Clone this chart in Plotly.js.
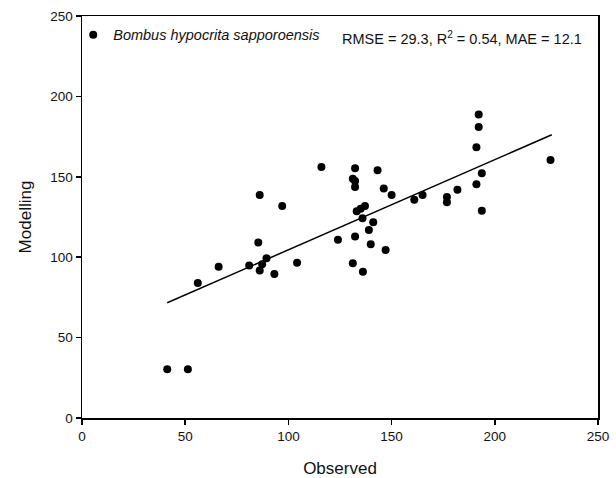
<!DOCTYPE html>
<html>
<head>
<meta charset="utf-8">
<script src="https://cdn.plot.ly/plotly-3.0.1.min.js"></script>
<style>html,body{margin:0;padding:0;background:#fff;}#chart{width:616px;height:478px;}</style>
</head>
<body>
<div id="chart"></div>
<script>
var observed = [41.3, 51.3, 56.1, 66.2, 81.0, 85.4, 86.1, 86.1, 87.3, 89.4, 93.2, 97.0, 104.2, 116.0, 124.0,
  131.2, 131.2, 132.3, 132.3, 132.3, 132.3, 133.1, 135.0, 136.1, 135.9, 137.1, 139.0, 139.9, 141.1, 143.2,
  146.2, 147.1, 150.0, 161.0, 165.0, 176.8, 176.8, 181.9, 191.1, 191.1, 192.2, 192.2, 193.7, 193.7, 227.0];
var modelled = [30.3, 30.3, 84.0, 94.1, 94.9, 109.2, 138.7, 91.8, 95.6, 99.3, 89.6, 131.8, 96.6, 156.1, 110.9,
  148.8, 96.2, 155.3, 147.4, 143.7, 112.8, 128.5, 130.2, 91.0, 124.2, 131.8, 116.9, 108.0, 121.7, 154.0,
  142.8, 104.5, 138.7, 135.8, 138.7, 137.4, 134.1, 142.0, 168.3, 145.3, 188.8, 181.0, 152.2, 128.9, 160.4];
var fitSlope = 0.561;
var fitIntercept = 48.5;
var fitX = [41.3, 227.6];
var fitY = fitX.map(function (x) { return fitIntercept + fitSlope * x; });
var xTicks = [0, 50, 100, 150, 200, 250];
var yTicks = [0, 50, 100, 150, 200, 250];
var seriesName = 'Bombus hypocrita sapporoensis';
var statsText = 'RMSE = 29.3, R<sup>2</sup> = 0.54, MAE = 12.1';

var font = 'Liberation Sans, Arial, sans-serif';
var traces = [
  {
    x: observed, y: modelled, mode: 'markers', type: 'scatter', name: seriesName,
    marker: {color: '#000', size: 8}, cliponaxis: false
  },
  {
    x: fitX, y: fitY, mode: 'lines', type: 'scatter', showlegend: false,
    line: {color: '#000', width: 1.5}
  }
];
var axisCommon = {
  showgrid: false, zeroline: false, showline: true, mirror: true,
  linecolor: '#000', linewidth: 1.5, ticks: 'outside', ticklen: 5, tickwidth: 1.5, tickcolor: '#000',
  tickfont: {family: font, size: 13.5, color: '#111'}
};
var layout = {
  width: 616, height: 478,
  margin: {l: 82, r: 18, t: 16, b: 60},
  paper_bgcolor: '#fff', plot_bgcolor: '#fff',
  showlegend: true,
  legend: {
    x: -0.017, y: 0.993, xanchor: 'left', yanchor: 'top', bgcolor: 'rgba(0,0,0,0)',
    font: {family: font, size: 14.5, color: '#111', style: 'italic'}
  },
  xaxis: Object.assign({}, axisCommon, {
    range: [0, 250], tickvals: xTicks, ticktext: xTicks.map(String),
    title: {text: 'Observed', font: {family: font, size: 17, color: '#111'}, standoff: 21}
  }),
  yaxis: Object.assign({}, axisCommon, {
    range: [0, 250], tickvals: yTicks, ticktext: yTicks.map(String),
    title: {text: 'Modelling', font: {family: font, size: 17, color: '#111'}, standoff: 14}
  }),
  annotations: [{
    xref: 'paper', yref: 'paper', x: 0.973, y: 0.945, xanchor: 'right', yanchor: 'middle',
    text: statsText, showarrow: false, font: {family: font, size: 14.5, color: '#111'}
  }]
};
Plotly.newPlot('chart', traces, layout, {displayModeBar: false, staticPlot: true});
</script>
</body>
</html>
